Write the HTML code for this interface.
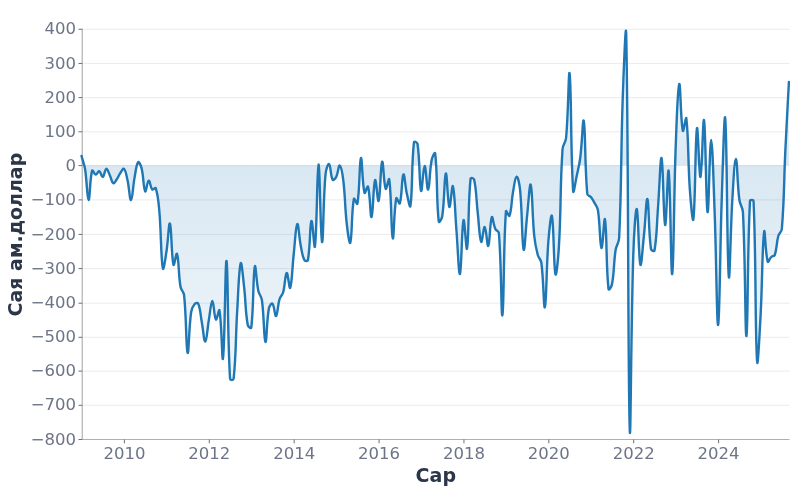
<!DOCTYPE html>
<html lang="mn">
<head>
<meta charset="utf-8">
<title>Сая ам.доллар</title>
<style>
html,body{margin:0;padding:0;background:#fff;}
body{width:800px;height:500px;overflow:hidden;font-family:"DejaVu Sans","Liberation Sans",sans-serif;}
svg{display:block;filter:blur(0.35px);}
.grid line{stroke:#e9ebee;stroke-width:1;}
.axis line{stroke:#b0b0b0;stroke-width:1.2;}
.ticks line{stroke:#6e6e6e;stroke-width:1;}
.ylab text{font-size:16.5px;fill:#6c7487;text-anchor:end;}
.xlab text{font-size:16.5px;fill:#6c7487;text-anchor:middle;}
.title{font-size:19px;font-weight:bold;fill:#2b3648;text-anchor:middle;}
</style>
</head>
<body>
<svg width="800" height="500" viewBox="0 0 800 500">
<defs>
<linearGradient id="g" gradientUnits="userSpaceOnUse" x1="0" y1="29.25" x2="0" y2="439.5">
<stop offset="0" stop-color="#1f77b4" stop-opacity="0.0"/>
<stop offset="0.3333" stop-color="#1f77b4" stop-opacity="0.17"/>
<stop offset="1" stop-color="#1f77b4" stop-opacity="0.035"/>
</linearGradient>
<clipPath id="cp"><rect x="80" y="0" width="710" height="500"/></clipPath>
</defs>
<rect width="800" height="500" fill="#ffffff"/>
<g class="grid"><line x1="82.2" x2="789.5" y1="29.25" y2="29.25"/><line x1="82.2" x2="789.5" y1="63.44" y2="63.44"/><line x1="82.2" x2="789.5" y1="97.62" y2="97.62"/><line x1="82.2" x2="789.5" y1="131.81" y2="131.81"/><line x1="82.2" x2="789.5" y1="165.60" y2="165.60"/><line x1="82.2" x2="789.5" y1="199.90" y2="199.90"/><line x1="82.2" x2="789.5" y1="234.40" y2="234.40"/><line x1="82.2" x2="789.5" y1="268.60" y2="268.60"/><line x1="82.2" x2="789.5" y1="303.20" y2="303.20"/><line x1="82.2" x2="789.5" y1="337.30" y2="337.30"/><line x1="82.2" x2="789.5" y1="371.12" y2="371.12"/><line x1="82.2" x2="789.5" y1="405.31" y2="405.31"/><line x1="82.2" x2="789.5" y1="439.50" y2="439.50"/></g>
<g class="axis"><line x1="82.25" x2="82.25" y1="28.75" y2="440.0"/><line x1="81.75" x2="789.5" y1="439.5" y2="439.5"/></g>
<g class="ticks"><line x1="78.5" x2="82.25" y1="29.25" y2="29.25"/><line x1="78.5" x2="82.25" y1="63.44" y2="63.44"/><line x1="78.5" x2="82.25" y1="97.62" y2="97.62"/><line x1="78.5" x2="82.25" y1="131.81" y2="131.81"/><line x1="78.5" x2="82.25" y1="165.60" y2="165.60"/><line x1="78.5" x2="82.25" y1="199.90" y2="199.90"/><line x1="78.5" x2="82.25" y1="234.40" y2="234.40"/><line x1="78.5" x2="82.25" y1="268.60" y2="268.60"/><line x1="78.5" x2="82.25" y1="303.20" y2="303.20"/><line x1="78.5" x2="82.25" y1="337.30" y2="337.30"/><line x1="78.5" x2="82.25" y1="371.12" y2="371.12"/><line x1="78.5" x2="82.25" y1="405.31" y2="405.31"/><line x1="78.5" x2="82.25" y1="439.50" y2="439.50"/><line x1="124.40" x2="124.40" y1="439.5" y2="443.3"/><line x1="209.29" x2="209.29" y1="439.5" y2="443.3"/><line x1="294.18" x2="294.18" y1="439.5" y2="443.3"/><line x1="379.07" x2="379.07" y1="439.5" y2="443.3"/><line x1="463.96" x2="463.96" y1="439.5" y2="443.3"/><line x1="548.84" x2="548.84" y1="439.5" y2="443.3"/><line x1="633.73" x2="633.73" y1="439.5" y2="443.3"/><line x1="718.62" x2="718.62" y1="439.5" y2="443.3"/></g>
<path d="M81.51,156.00C82.92,161.20 84.19,163.69 85.05,169.00C87.02,181.29 87.13,199.66 88.58,200.00C89.96,200.32 89.72,179.28 92.12,170.67C92.55,169.12 94.19,174.48 95.66,174.60C97.02,174.71 98.01,170.83 99.19,171.23C100.84,171.78 101.51,177.40 102.73,176.98C104.34,176.43 104.71,169.21 106.27,168.82C107.54,168.49 108.53,172.58 109.81,175.20C111.36,178.38 111.59,182.33 113.34,183.32C114.42,183.93 115.67,180.99 116.88,179.20C118.50,176.79 118.79,175.21 120.42,172.80C121.62,171.03 123.07,167.85 123.95,168.75C125.90,170.73 126.45,175.41 127.49,180.00C129.28,187.91 129.69,200.45 131.03,200.00C132.52,199.49 132.90,186.51 134.56,177.60C135.73,171.38 136.16,164.67 138.10,162.17C138.99,161.03 140.96,165.71 141.64,168.50C143.79,177.39 143.28,188.11 145.18,191.36C146.11,192.95 147.18,181.01 148.71,180.60C150.01,180.25 150.22,187.25 152.25,189.46C153.05,190.32 155.39,187.07 155.79,188.27C158.22,195.68 158.52,201.84 159.32,211.00C161.34,233.89 160.67,255.68 162.86,268.38C163.50,272.08 165.35,258.62 166.40,252.00C168.18,240.73 168.78,221.57 169.94,223.66C171.61,226.67 171.26,255.29 173.47,264.73C174.09,267.36 176.29,251.53 177.01,253.81C179.11,260.44 178.30,273.95 180.55,287.00C181.13,290.42 183.71,291.55 184.08,295.00C186.54,317.87 185.96,348.81 187.62,352.80C188.79,355.61 188.83,328.08 191.16,312.00C191.66,308.56 192.68,306.37 194.69,304.00C195.51,303.04 197.78,302.50 198.23,303.65C200.61,309.70 200.40,314.65 201.77,322.00C203.23,329.83 203.96,341.98 205.31,341.60C206.79,341.18 207.34,328.62 208.84,320.00C210.17,312.38 210.95,301.10 212.38,301.00C213.78,300.90 214.06,317.05 215.92,319.51C216.89,320.79 218.97,307.71 219.45,310.35C221.80,323.26 222.05,364.90 222.99,358.37C224.88,345.16 225.25,257.27 226.53,261.00C228.08,265.51 227.32,333.14 230.06,378.97C230.15,380.34 233.46,380.34 233.60,379.00C236.29,353.55 235.50,338.79 237.14,312.00C238.33,292.53 238.80,269.72 240.67,263.37C241.63,260.12 243.08,278.11 244.21,288.00C245.91,302.77 245.21,310.85 247.75,325.00C248.04,326.65 251.10,329.05 251.29,327.50C253.93,305.69 252.81,276.99 254.82,266.60C255.64,262.39 256.33,281.40 258.36,291.00C259.16,294.76 261.37,296.19 261.90,300.00C264.20,316.58 263.87,340.19 265.43,341.96C266.70,343.39 266.54,321.16 268.97,308.00C269.37,305.85 271.65,302.71 272.51,303.68C274.48,305.89 274.84,316.76 276.04,315.96C277.67,314.89 277.60,305.58 279.58,299.00C280.43,296.19 282.35,295.33 283.12,292.50C285.18,284.93 285.06,274.07 286.66,273.00C287.88,272.18 289.32,290.14 290.19,287.79C292.15,282.54 292.23,267.51 293.73,254.00C295.06,242.03 295.64,225.93 297.27,224.09C298.47,222.73 299.09,237.30 300.80,246.00C301.92,251.66 302.07,255.45 304.34,260.00C304.90,261.12 307.64,261.46 307.88,260.18C310.47,245.89 309.70,224.39 311.41,221.07C312.53,218.91 314.28,251.85 314.95,246.46C317.11,229.26 317.03,165.52 318.49,164.60C319.86,163.73 320.52,240.00 322.03,242.00C323.35,243.76 323.11,200.99 325.56,174.00C325.94,169.83 327.98,163.18 329.10,164.08C330.81,165.46 330.42,175.66 332.64,179.70C333.25,180.83 335.40,178.53 336.17,177.00C338.23,172.90 338.45,165.08 339.71,165.62C341.28,166.28 342.54,174.13 343.25,180.00C345.37,197.49 344.80,206.48 346.78,224.00C347.63,231.51 349.47,245.61 350.32,242.59C352.30,235.56 351.37,212.54 353.86,198.87C354.20,196.99 357.07,205.62 357.40,203.72C359.90,189.30 359.33,160.57 360.93,158.07C362.16,156.18 362.12,183.26 364.47,192.75C364.95,194.68 367.48,184.79 368.01,186.62C370.30,194.49 370.26,218.17 371.54,217.00C373.09,215.58 373.27,184.28 375.08,180.15C376.10,177.81 377.63,203.38 378.62,200.82C380.46,196.01 380.49,164.53 382.15,161.71C383.32,159.74 383.62,183.67 385.69,188.83C386.45,190.74 388.82,176.50 389.23,179.39C391.64,196.24 391.08,233.69 392.77,238.19C393.91,241.25 393.85,210.31 396.30,198.26C396.68,196.39 399.34,205.06 399.84,203.39C402.17,195.56 401.69,176.75 403.38,174.52C404.52,172.99 405.18,186.28 406.91,194.00C408.01,198.86 409.99,209.33 410.45,205.95C412.82,188.59 411.32,165.46 413.99,142.14C414.15,140.68 417.30,142.47 417.52,144.00C420.13,161.92 419.22,185.02 421.06,190.76C422.05,193.82 423.15,166.24 424.60,166.00C425.98,165.77 426.88,190.67 428.14,189.60C429.71,188.27 429.40,171.57 431.67,160.00C432.23,157.15 434.93,151.15 435.21,153.55C437.76,175.74 436.16,198.68 438.75,221.48C438.99,223.66 441.91,218.54 442.28,216.00C444.74,199.31 444.24,175.44 445.82,173.40C447.07,171.80 447.61,203.74 449.36,206.90C450.44,208.87 451.98,183.26 452.89,186.24C454.81,192.49 455.02,212.50 456.43,230.00C457.85,247.58 458.69,275.72 459.97,273.96C461.52,271.81 461.66,226.87 463.51,220.23C464.49,216.71 466.22,253.40 467.04,248.58C469.05,236.77 467.89,204.89 470.58,178.66C470.72,177.29 473.83,178.25 474.12,179.60C476.66,191.59 476.18,199.05 477.65,212.00C479.01,223.94 479.31,237.86 481.19,241.84C482.14,243.86 483.48,226.28 484.73,227.00C486.31,227.91 487.13,247.48 488.26,245.92C489.96,243.59 489.82,222.03 491.80,217.28C492.64,215.26 493.37,224.62 495.34,229.00C496.20,230.91 498.70,230.90 498.88,233.00C501.53,265.40 501.16,319.07 502.41,315.24C503.99,310.41 503.27,249.03 505.95,211.34C506.10,209.26 508.94,217.31 509.49,215.82C511.77,209.57 511.32,201.47 513.02,192.00C514.15,185.78 515.05,177.03 516.56,176.60C517.88,176.23 519.57,184.50 520.10,190.00C522.39,213.72 521.85,243.34 523.63,249.65C524.68,253.34 525.66,228.85 527.17,215.00C528.49,202.94 529.66,181.77 530.71,184.89C532.49,190.17 532.19,215.64 534.25,236.00C535.02,243.68 535.80,247.58 537.78,255.00C538.63,258.18 540.88,259.24 541.32,262.50C543.71,280.09 543.72,310.60 544.86,307.13C546.55,302.00 546.34,267.39 548.39,241.00C549.17,230.96 551.08,212.04 551.93,216.04C553.91,225.30 553.59,266.46 555.47,274.16C556.42,278.04 558.34,256.72 559.00,245.00C561.17,206.66 560.02,187.20 562.54,149.00C562.85,144.40 565.65,142.58 566.08,138.00C568.48,112.47 568.61,66.22 569.62,73.73C571.44,87.43 570.65,154.87 573.15,191.02C573.48,195.78 575.40,182.04 576.69,176.00C578.23,168.83 579.29,165.27 580.23,158.00C582.12,143.29 582.81,116.19 583.76,121.05C585.64,130.59 584.64,165.43 587.30,194.00C587.47,195.81 589.67,195.58 590.84,197.00C592.50,199.02 593.11,200.28 594.38,202.60C595.94,205.48 597.41,206.79 597.91,210.00C600.24,224.95 599.84,245.85 601.45,248.00C602.67,249.62 604.16,214.63 604.99,219.44C606.99,231.07 605.92,265.37 608.52,289.09C608.75,291.20 611.63,286.40 612.06,284.00C614.46,270.76 613.53,263.47 615.60,250.00C616.36,245.07 618.90,242.99 619.13,238.00C621.73,182.99 620.76,155.18 622.67,100.00C623.58,73.67 625.80,15.41 626.21,34.24C628.63,147.19 627.78,368.17 629.75,429.43C630.61,456.47 631.04,324.73 633.28,255.00C633.87,236.57 635.54,207.29 636.82,209.03C638.37,211.13 638.49,257.49 640.36,264.59C641.32,268.27 642.65,247.46 643.89,236.00C645.48,221.27 646.23,196.92 647.43,199.13C649.06,202.12 648.34,229.93 650.97,249.00C651.17,250.46 654.28,251.79 654.50,250.44C657.11,234.99 656.71,224.38 658.04,207.00C659.54,187.48 660.38,155.15 661.58,158.20C663.21,162.35 663.55,222.17 665.12,225.00C666.38,227.29 667.68,164.26 668.65,171.00C670.51,183.86 670.93,278.46 672.19,274.00C673.76,268.46 673.82,197.18 675.73,146.00C676.65,121.22 677.65,87.58 679.26,84.09C680.48,81.46 680.58,119.93 682.80,130.72C683.41,133.67 685.91,114.86 686.34,118.45C688.74,138.57 687.86,161.43 689.87,190.00C690.69,201.67 692.72,225.04 693.41,219.04C695.55,200.42 695.11,139.37 696.95,128.43C697.94,122.56 699.18,178.50 700.49,177.00C702.01,175.25 702.94,114.98 704.02,120.33C705.77,128.98 705.97,207.59 707.56,212.00C708.80,215.46 709.68,140.00 711.10,140.00C712.51,140.00 713.53,183.19 714.63,212.00C716.36,257.19 716.83,327.28 718.17,325.00C719.66,322.48 719.99,249.99 721.71,200.00C722.82,167.40 724.28,108.13 725.24,118.53C727.11,138.66 726.87,254.38 728.78,276.33C729.70,286.96 730.48,230.51 732.32,200.00C733.31,183.57 734.44,159.00 735.86,159.00C737.27,159.00 737.22,183.74 739.39,200.00C740.05,204.94 742.67,207.02 742.93,212.00C745.50,261.42 745.11,338.09 746.47,336.00C747.94,333.72 747.25,253.69 750.00,201.07C750.08,199.69 753.48,199.62 753.54,201.00C756.31,263.71 754.88,325.94 757.08,361.30C757.71,371.54 759.60,333.55 760.61,315.00C762.43,281.73 762.07,247.44 764.15,231.77C764.90,226.10 765.32,253.21 767.69,261.66C768.15,263.30 769.56,258.57 771.23,257.00C772.38,255.91 774.27,256.46 774.76,255.00C777.10,248.06 776.29,243.40 778.30,236.00C779.12,233.00 781.58,232.10 781.84,229.00C784.41,197.70 783.85,181.59 785.37,150.00C786.68,122.79 787.50,109.20 788.91,82.00L788.91,165.30L81.51,165.30Z" fill="url(#g)" stroke="none"/>
<path d="M81.51,156.00C82.92,161.20 84.19,163.69 85.05,169.00C87.02,181.29 87.13,199.66 88.58,200.00C89.96,200.32 89.72,179.28 92.12,170.67C92.55,169.12 94.19,174.48 95.66,174.60C97.02,174.71 98.01,170.83 99.19,171.23C100.84,171.78 101.51,177.40 102.73,176.98C104.34,176.43 104.71,169.21 106.27,168.82C107.54,168.49 108.53,172.58 109.81,175.20C111.36,178.38 111.59,182.33 113.34,183.32C114.42,183.93 115.67,180.99 116.88,179.20C118.50,176.79 118.79,175.21 120.42,172.80C121.62,171.03 123.07,167.85 123.95,168.75C125.90,170.73 126.45,175.41 127.49,180.00C129.28,187.91 129.69,200.45 131.03,200.00C132.52,199.49 132.90,186.51 134.56,177.60C135.73,171.38 136.16,164.67 138.10,162.17C138.99,161.03 140.96,165.71 141.64,168.50C143.79,177.39 143.28,188.11 145.18,191.36C146.11,192.95 147.18,181.01 148.71,180.60C150.01,180.25 150.22,187.25 152.25,189.46C153.05,190.32 155.39,187.07 155.79,188.27C158.22,195.68 158.52,201.84 159.32,211.00C161.34,233.89 160.67,255.68 162.86,268.38C163.50,272.08 165.35,258.62 166.40,252.00C168.18,240.73 168.78,221.57 169.94,223.66C171.61,226.67 171.26,255.29 173.47,264.73C174.09,267.36 176.29,251.53 177.01,253.81C179.11,260.44 178.30,273.95 180.55,287.00C181.13,290.42 183.71,291.55 184.08,295.00C186.54,317.87 185.96,348.81 187.62,352.80C188.79,355.61 188.83,328.08 191.16,312.00C191.66,308.56 192.68,306.37 194.69,304.00C195.51,303.04 197.78,302.50 198.23,303.65C200.61,309.70 200.40,314.65 201.77,322.00C203.23,329.83 203.96,341.98 205.31,341.60C206.79,341.18 207.34,328.62 208.84,320.00C210.17,312.38 210.95,301.10 212.38,301.00C213.78,300.90 214.06,317.05 215.92,319.51C216.89,320.79 218.97,307.71 219.45,310.35C221.80,323.26 222.05,364.90 222.99,358.37C224.88,345.16 225.25,257.27 226.53,261.00C228.08,265.51 227.32,333.14 230.06,378.97C230.15,380.34 233.46,380.34 233.60,379.00C236.29,353.55 235.50,338.79 237.14,312.00C238.33,292.53 238.80,269.72 240.67,263.37C241.63,260.12 243.08,278.11 244.21,288.00C245.91,302.77 245.21,310.85 247.75,325.00C248.04,326.65 251.10,329.05 251.29,327.50C253.93,305.69 252.81,276.99 254.82,266.60C255.64,262.39 256.33,281.40 258.36,291.00C259.16,294.76 261.37,296.19 261.90,300.00C264.20,316.58 263.87,340.19 265.43,341.96C266.70,343.39 266.54,321.16 268.97,308.00C269.37,305.85 271.65,302.71 272.51,303.68C274.48,305.89 274.84,316.76 276.04,315.96C277.67,314.89 277.60,305.58 279.58,299.00C280.43,296.19 282.35,295.33 283.12,292.50C285.18,284.93 285.06,274.07 286.66,273.00C287.88,272.18 289.32,290.14 290.19,287.79C292.15,282.54 292.23,267.51 293.73,254.00C295.06,242.03 295.64,225.93 297.27,224.09C298.47,222.73 299.09,237.30 300.80,246.00C301.92,251.66 302.07,255.45 304.34,260.00C304.90,261.12 307.64,261.46 307.88,260.18C310.47,245.89 309.70,224.39 311.41,221.07C312.53,218.91 314.28,251.85 314.95,246.46C317.11,229.26 317.03,165.52 318.49,164.60C319.86,163.73 320.52,240.00 322.03,242.00C323.35,243.76 323.11,200.99 325.56,174.00C325.94,169.83 327.98,163.18 329.10,164.08C330.81,165.46 330.42,175.66 332.64,179.70C333.25,180.83 335.40,178.53 336.17,177.00C338.23,172.90 338.45,165.08 339.71,165.62C341.28,166.28 342.54,174.13 343.25,180.00C345.37,197.49 344.80,206.48 346.78,224.00C347.63,231.51 349.47,245.61 350.32,242.59C352.30,235.56 351.37,212.54 353.86,198.87C354.20,196.99 357.07,205.62 357.40,203.72C359.90,189.30 359.33,160.57 360.93,158.07C362.16,156.18 362.12,183.26 364.47,192.75C364.95,194.68 367.48,184.79 368.01,186.62C370.30,194.49 370.26,218.17 371.54,217.00C373.09,215.58 373.27,184.28 375.08,180.15C376.10,177.81 377.63,203.38 378.62,200.82C380.46,196.01 380.49,164.53 382.15,161.71C383.32,159.74 383.62,183.67 385.69,188.83C386.45,190.74 388.82,176.50 389.23,179.39C391.64,196.24 391.08,233.69 392.77,238.19C393.91,241.25 393.85,210.31 396.30,198.26C396.68,196.39 399.34,205.06 399.84,203.39C402.17,195.56 401.69,176.75 403.38,174.52C404.52,172.99 405.18,186.28 406.91,194.00C408.01,198.86 409.99,209.33 410.45,205.95C412.82,188.59 411.32,165.46 413.99,142.14C414.15,140.68 417.30,142.47 417.52,144.00C420.13,161.92 419.22,185.02 421.06,190.76C422.05,193.82 423.15,166.24 424.60,166.00C425.98,165.77 426.88,190.67 428.14,189.60C429.71,188.27 429.40,171.57 431.67,160.00C432.23,157.15 434.93,151.15 435.21,153.55C437.76,175.74 436.16,198.68 438.75,221.48C438.99,223.66 441.91,218.54 442.28,216.00C444.74,199.31 444.24,175.44 445.82,173.40C447.07,171.80 447.61,203.74 449.36,206.90C450.44,208.87 451.98,183.26 452.89,186.24C454.81,192.49 455.02,212.50 456.43,230.00C457.85,247.58 458.69,275.72 459.97,273.96C461.52,271.81 461.66,226.87 463.51,220.23C464.49,216.71 466.22,253.40 467.04,248.58C469.05,236.77 467.89,204.89 470.58,178.66C470.72,177.29 473.83,178.25 474.12,179.60C476.66,191.59 476.18,199.05 477.65,212.00C479.01,223.94 479.31,237.86 481.19,241.84C482.14,243.86 483.48,226.28 484.73,227.00C486.31,227.91 487.13,247.48 488.26,245.92C489.96,243.59 489.82,222.03 491.80,217.28C492.64,215.26 493.37,224.62 495.34,229.00C496.20,230.91 498.70,230.90 498.88,233.00C501.53,265.40 501.16,319.07 502.41,315.24C503.99,310.41 503.27,249.03 505.95,211.34C506.10,209.26 508.94,217.31 509.49,215.82C511.77,209.57 511.32,201.47 513.02,192.00C514.15,185.78 515.05,177.03 516.56,176.60C517.88,176.23 519.57,184.50 520.10,190.00C522.39,213.72 521.85,243.34 523.63,249.65C524.68,253.34 525.66,228.85 527.17,215.00C528.49,202.94 529.66,181.77 530.71,184.89C532.49,190.17 532.19,215.64 534.25,236.00C535.02,243.68 535.80,247.58 537.78,255.00C538.63,258.18 540.88,259.24 541.32,262.50C543.71,280.09 543.72,310.60 544.86,307.13C546.55,302.00 546.34,267.39 548.39,241.00C549.17,230.96 551.08,212.04 551.93,216.04C553.91,225.30 553.59,266.46 555.47,274.16C556.42,278.04 558.34,256.72 559.00,245.00C561.17,206.66 560.02,187.20 562.54,149.00C562.85,144.40 565.65,142.58 566.08,138.00C568.48,112.47 568.61,66.22 569.62,73.73C571.44,87.43 570.65,154.87 573.15,191.02C573.48,195.78 575.40,182.04 576.69,176.00C578.23,168.83 579.29,165.27 580.23,158.00C582.12,143.29 582.81,116.19 583.76,121.05C585.64,130.59 584.64,165.43 587.30,194.00C587.47,195.81 589.67,195.58 590.84,197.00C592.50,199.02 593.11,200.28 594.38,202.60C595.94,205.48 597.41,206.79 597.91,210.00C600.24,224.95 599.84,245.85 601.45,248.00C602.67,249.62 604.16,214.63 604.99,219.44C606.99,231.07 605.92,265.37 608.52,289.09C608.75,291.20 611.63,286.40 612.06,284.00C614.46,270.76 613.53,263.47 615.60,250.00C616.36,245.07 618.90,242.99 619.13,238.00C621.73,182.99 620.76,155.18 622.67,100.00C623.58,73.67 625.80,15.41 626.21,34.24C628.63,147.19 627.78,368.17 629.75,429.43C630.61,456.47 631.04,324.73 633.28,255.00C633.87,236.57 635.54,207.29 636.82,209.03C638.37,211.13 638.49,257.49 640.36,264.59C641.32,268.27 642.65,247.46 643.89,236.00C645.48,221.27 646.23,196.92 647.43,199.13C649.06,202.12 648.34,229.93 650.97,249.00C651.17,250.46 654.28,251.79 654.50,250.44C657.11,234.99 656.71,224.38 658.04,207.00C659.54,187.48 660.38,155.15 661.58,158.20C663.21,162.35 663.55,222.17 665.12,225.00C666.38,227.29 667.68,164.26 668.65,171.00C670.51,183.86 670.93,278.46 672.19,274.00C673.76,268.46 673.82,197.18 675.73,146.00C676.65,121.22 677.65,87.58 679.26,84.09C680.48,81.46 680.58,119.93 682.80,130.72C683.41,133.67 685.91,114.86 686.34,118.45C688.74,138.57 687.86,161.43 689.87,190.00C690.69,201.67 692.72,225.04 693.41,219.04C695.55,200.42 695.11,139.37 696.95,128.43C697.94,122.56 699.18,178.50 700.49,177.00C702.01,175.25 702.94,114.98 704.02,120.33C705.77,128.98 705.97,207.59 707.56,212.00C708.80,215.46 709.68,140.00 711.10,140.00C712.51,140.00 713.53,183.19 714.63,212.00C716.36,257.19 716.83,327.28 718.17,325.00C719.66,322.48 719.99,249.99 721.71,200.00C722.82,167.40 724.28,108.13 725.24,118.53C727.11,138.66 726.87,254.38 728.78,276.33C729.70,286.96 730.48,230.51 732.32,200.00C733.31,183.57 734.44,159.00 735.86,159.00C737.27,159.00 737.22,183.74 739.39,200.00C740.05,204.94 742.67,207.02 742.93,212.00C745.50,261.42 745.11,338.09 746.47,336.00C747.94,333.72 747.25,253.69 750.00,201.07C750.08,199.69 753.48,199.62 753.54,201.00C756.31,263.71 754.88,325.94 757.08,361.30C757.71,371.54 759.60,333.55 760.61,315.00C762.43,281.73 762.07,247.44 764.15,231.77C764.90,226.10 765.32,253.21 767.69,261.66C768.15,263.30 769.56,258.57 771.23,257.00C772.38,255.91 774.27,256.46 774.76,255.00C777.10,248.06 776.29,243.40 778.30,236.00C779.12,233.00 781.58,232.10 781.84,229.00C784.41,197.70 783.85,181.59 785.37,150.00C786.68,122.79 787.50,109.20 788.91,82.00" fill="none" stroke="#1f77b4" stroke-width="2.4" clip-path="url(#cp)" stroke-linejoin="round" stroke-linecap="round"/>

<g class="ylab"><text transform="translate(76,34.40)">400</text><text transform="translate(76,68.59)">300</text><text transform="translate(76,102.78)">200</text><text transform="translate(76,136.96)">100</text><text transform="translate(76,170.75)">0</text><text transform="translate(76,205.05)">−100</text><text transform="translate(76,239.55)">−200</text><text transform="translate(76,273.75)">−300</text><text transform="translate(76,308.35)">−400</text><text transform="translate(76,342.45)">−500</text><text transform="translate(76,376.27)">−600</text><text transform="translate(76,410.46)">−700</text><text transform="translate(76,444.65)">−800</text></g>
<g class="xlab"><text transform="translate(124.40,459)">2010</text><text transform="translate(209.29,459)">2012</text><text transform="translate(294.18,459)">2014</text><text transform="translate(379.07,459)">2016</text><text transform="translate(463.96,459)">2018</text><text transform="translate(548.84,459)">2020</text><text transform="translate(633.73,459)">2022</text><text transform="translate(718.62,459)">2024</text></g>
<text class="title" transform="translate(435.8,481.8)">Сар</text>
<text class="title" transform="translate(21.5,234.6) rotate(-90)">Сая ам.доллар</text>
</svg>
</body>
</html>
